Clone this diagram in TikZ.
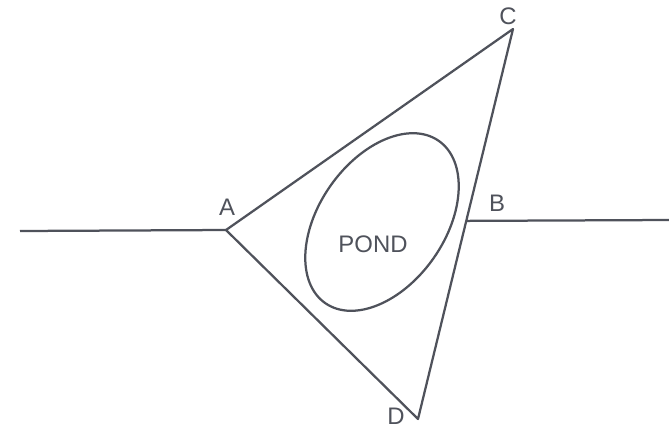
\documentclass[tikz,border=0pt]{standalone}
\usepackage{fontspec}
\setmainfont{Liberation Sans}
\usetikzlibrary{calc}
\definecolor{ink}{HTML}{4F525B}
\tikzset{wall/.style={draw=ink,line width=1.6pt,line join=round},
  lbl/.style={text=ink,font=\fontsize{17}{19}\selectfont,inner sep=0pt}}
\begin{document}
\begin{tikzpicture}[x=0.025cm,y=-0.025cm]
\useasboundingbox (0,0) rectangle (669,430);
\coordinate (A) at (226,230);
\coordinate (C) at (513,29);
\coordinate (D) at (418,419);
\coordinate (B) at ($(C)!0.492!(D)$);
\coordinate (W) at (20,231);
\coordinate (E) at (669,220);
\draw[wall] (A) -- (C) -- (D) -- cycle;
\draw[wall] (W) -- (A);
\draw[wall] (B) -- (E);
\draw[wall] (382,222) ellipse[x radius=63,y radius=99,rotate=-35];
\node[lbl] (pond) at (373,244) {POND};
\node[lbl] (a) at (227,207) {A};
\node[lbl] (b) at (497,203) {B};
\node[lbl] (c) at (508,16) {C};
\node[lbl] (d) at (396,416) {D};
\end{tikzpicture}
\end{document}
